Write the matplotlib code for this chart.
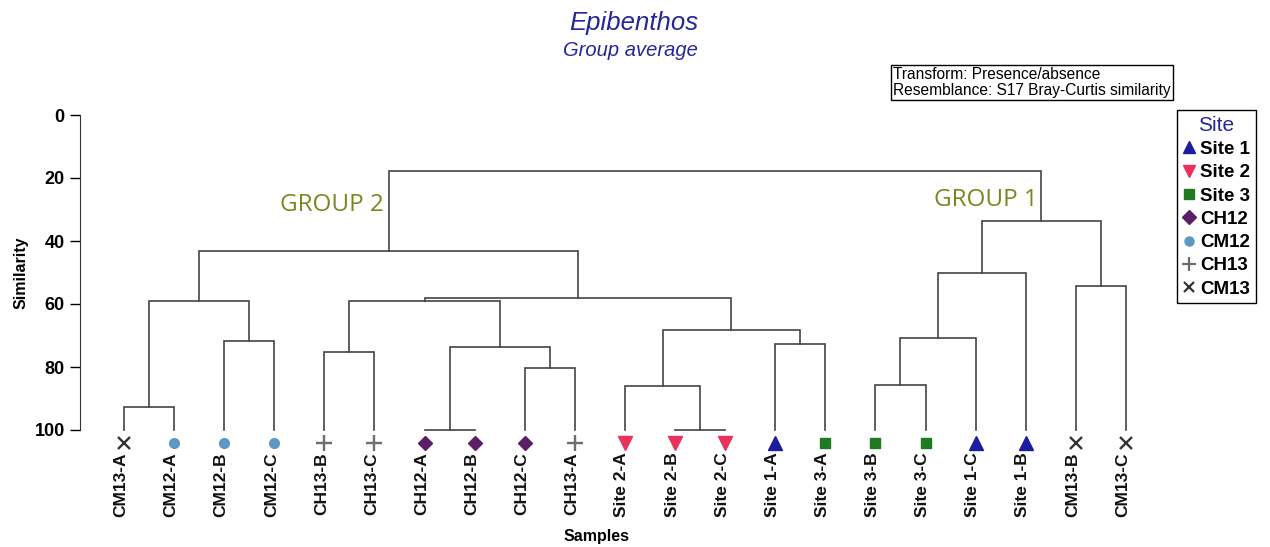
import matplotlib
matplotlib.use("Agg")
import matplotlib.pyplot as plt
from matplotlib.lines import Line2D

plt.rcParams['font.family'] = ['Liberation Sans', 'DejaVu Sans']

# leaf order as drawn
samples = ['CM13-A', 'CM12-A', 'CM12-B', 'CM12-C', 'CH13-B', 'CH13-C',
           'CH12-A', 'CH12-B', 'CH12-C', 'CH13-A', 'Site 2-A', 'Site 2-B',
           'Site 2-C', 'Site 1-A', 'Site 3-A', 'Site 3-B', 'Site 3-C',
           'Site 1-C', 'Site 1-B', 'CM13-B', 'CM13-C']
sites = ['CM13', 'CM12', 'CM12', 'CM12', 'CH13', 'CH13',
         'CH12', 'CH12', 'CH12', 'CH13', 'Site 2', 'Site 2',
         'Site 2', 'Site 1', 'Site 3', 'Site 3', 'Site 3',
         'Site 1', 'Site 1', 'CM13', 'CM13']

# merges: new node id = 21 + row index
merge_left = [0, 2, 21, 4, 6, 8, 25, 24, 11, 10, 13, 30, 28, 23, 15, 35, 36, 19, 37, 34]
merge_right = [1, 3, 22, 5, 7, 9, 26, 27, 12, 29, 14, 31, 32, 33, 16, 17, 18, 20, 38, 39]
merge_sim = [92.6, 71.6, 59.0, 75.3, 100.0, 80.4, 73.5, 59.2, 100.0, 85.9,
             72.7, 68.4, 58.2, 43.3, 85.7, 70.7, 50.2, 54.2, 33.5, 17.8]

legend_sites = ['Site 1', 'Site 2', 'Site 3', 'CH12', 'CM12', 'CH13', 'CM13']
site_marker = {'Site 1': '^', 'Site 2': 'v', 'Site 3': 's', 'CH12': 'D',
               'CM12': 'o', 'CH13': '+', 'CM13': 'x'}
site_color = {'Site 1': '#1c1c9c', 'Site 2': '#e8325c', 'Site 3': '#1f7a22',
              'CH12': '#5a1f66', 'CM12': '#5d98c4', 'CH13': '#6e6e6e',
              'CM13': '#333333'}
site_size = {'Site 1': 9.5, 'Site 2': 9.5, 'Site 3': 7.5, 'CH12': 7.5,
             'CM12': 7, 'CH13': 11, 'CM13': 8}

fig = plt.figure(figsize=(12.7, 5.47), dpi=100)
ax = fig.add_axes([80 / 1270, 1 - 430 / 547, 1090 / 1270, 315 / 547])

n = len(samples)
xpos = {i: i for i in range(n)}
ypos = {i: 100.0 for i in range(n)}
line_col = '#444444'
for k in range(len(merge_sim)):
    a, b, s = merge_left[k], merge_right[k], merge_sim[k]
    ax.plot([xpos[a], xpos[a], xpos[b], xpos[b]], [ypos[a], s, s, ypos[b]],
            color=line_col, lw=1.2, solid_joinstyle='miter', clip_on=False)
    node = n + k
    xpos[node] = (xpos[a] + xpos[b]) / 2
    ypos[node] = s

for i, (lab, st) in enumerate(zip(samples, sites)):
    ax.plot(i, 104.2, marker=site_marker[st], color=site_color[st],
            ms=site_size[st], mew=1.7 if st in ('CH13', 'CM13') else 1,
            ls='none', clip_on=False)
    ax.text(i - 0.06, 107.2, lab, rotation=90, ha='center', va='top',
            fontsize=12.5, fontweight='bold', color='#111111')

ax.set_xlim(-0.878, 20.88)
ax.set_ylim(100, 0)
ax.set_yticks([0, 20, 40, 60, 80, 100])
ax.tick_params(axis='y', length=7, width=1, pad=4, labelsize=13)
for t in ax.get_yticklabels():
    t.set_fontweight('bold')
ax.set_xticks([])
for sp in ['top', 'right', 'bottom']:
    ax.spines[sp].set_visible(False)
ax.spines['left'].set_color('#333333')
ax.set_ylabel('Similarity', fontsize=11.5, fontweight='bold', labelpad=4)

ax.text(4.15, 28.6, 'GROUP 2', fontsize=17.5, color='#76891f',
        family=['Open Sans', 'DejaVu Sans'], ha='center', va='center')
ax.text(17.2, 27.0, 'GROUP 1', fontsize=17.5, color='#76891f',
        family=['Open Sans', 'DejaVu Sans'], ha='center', va='center')

fig.text(634 / 1270, 1 - 23 / 547, 'Epibenthos', fontsize=18.5, style='italic',
         color='#262699', ha='center', va='center')
fig.text(630 / 1270, 1 - 51 / 547, 'Group average', fontsize=14.5, style='italic',
         color='#262699', ha='center', va='center')
fig.text(597 / 1270, 1 - 537 / 547, 'Samples', fontsize=11.5, fontweight='bold',
         ha='center', va='center')

fig.text(893 / 1270, 1 - 82.5 / 547,
         'Transform: Presence/absence\nResemblance: S17 Bray-Curtis similarity',
         fontsize=11.2, ha='left', va='center', linespacing=1.05,
         bbox=dict(boxstyle='square,pad=0.15', fc='white', ec='black', lw=1))

handles = [Line2D([], [], marker=site_marker[s], color=site_color[s], ls='none',
                  ms=site_size[s] - 0.5, mew=1.6 if s in ('CH13', 'CM13') else 1)
           for s in legend_sites]
leg = fig.legend(handles, legend_sites, loc='upper left',
                 bbox_to_anchor=(1177 / 1270, 1 - 110 / 547), frameon=True,
                 fancybox=False, edgecolor='black', framealpha=1,
                 prop={'size': 13.5, 'weight': 'bold'}, title='Site',
                 handlelength=0.7, handletextpad=0.25, labelspacing=0.33,
                 borderpad=0.3, borderaxespad=0)
leg.get_title().set_color('#262699')
leg.get_title().set_fontsize(15)
leg.get_frame().set_linewidth(1)

fig.savefig('out.png', dpi=100)
